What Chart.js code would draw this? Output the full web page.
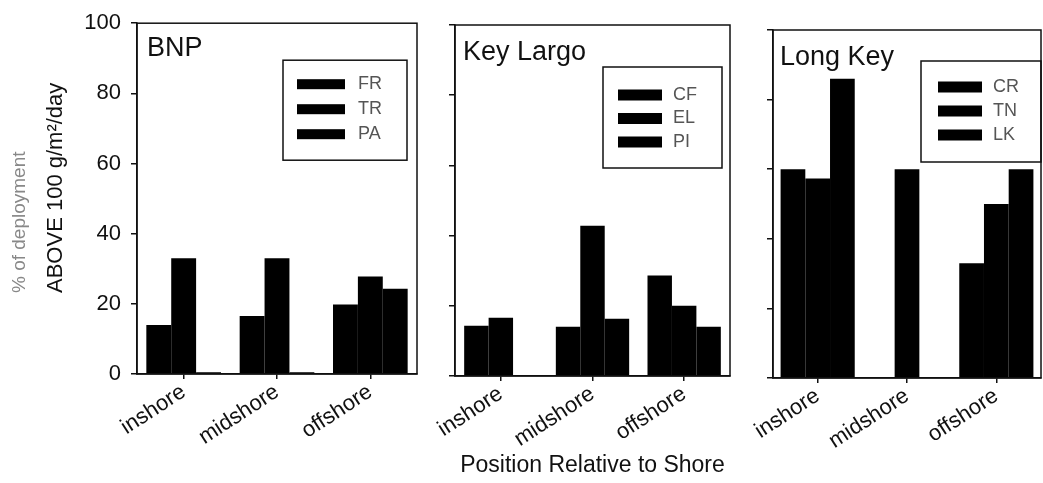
<!DOCTYPE html>
<html>
<head>
<meta charset="utf-8">
<script src="https://cdn.jsdelivr.net/npm/chart.js@4.4.1/dist/chart.umd.min.js"></script>
<style>
  html, body { margin: 0; padding: 0; background: #fff; }
  #wrap { position: relative; width: 1043px; height: 483px; overflow: hidden; }
  .panel { position: absolute; top: 0; }
</style>
</head>
<body>
<div id="wrap">
  <canvas class="panel" id="bnp" width="425" height="483" style="left:0"></canvas>
  <canvas class="panel" id="keylargo" width="310" height="483" style="left:425px"></canvas>
  <canvas class="panel" id="longkey" width="308" height="483" style="left:735px"></canvas>
</div>
<script>
// --- data ---
const categories = ['inshore', 'midshore', 'offshore'];
const yTicks = [0, 20, 40, 60, 80, 100];

const bnpSeries = ['FR', 'TR', 'PA'];
const bnpFR = [14, 16.5, 19.8];
const bnpTR = [33, 33, 27.8];
const bnpPA = [0.5, 0.5, 24.3];

const klSeries = ['CF', 'EL', 'PI'];
const klCF = [14.3, 14, 28.6];
const klEL = [16.6, 42.8, 20];
const klPI = [0, 16.3, 14];

const lkSeries = ['CR', 'TN', 'LK'];
const lkCR = [60, 0, 33];
const lkTN = [57.3, 60, 50];
const lkLK = [86, 0, 60];

const FONT = "'Liberation Sans', Arial, sans-serif";
Chart.defaults.font.family = FONT;
Chart.defaults.color = '#111';

// 프레임 + 패널 제목 + 범례 박스
const panelDeco = {
    id: 'panelDeco',
    afterDraw(chart, args, opts) {
        const { ctx, chartArea: a } = chart;
        ctx.save();
        ctx.strokeStyle = '#111';
        ctx.lineWidth = 1.5;
        ctx.strokeRect(a.left, a.top, a.right - a.left, a.bottom - a.top);

        ctx.fillStyle = '#111';
        ctx.font = `27px ${FONT}`;
        ctx.textBaseline = 'alphabetic';
        ctx.textAlign = 'left';
        ctx.fillText(opts.title, a.left + opts.titleDx, a.top + opts.titleDy);

        const lg = opts.legend;
        const x0 = a.right - lg.right - lg.w;
        const y0 = a.top + lg.top;
        ctx.strokeRect(x0, y0, lg.w, lg.h);
        ctx.font = `18px ${FONT}`;
        ctx.textBaseline = 'middle';
        chart.data.datasets.forEach((ds, i) => {
            const cy = y0 + lg.row0 + i * lg.rowGap;
            ctx.fillStyle = ds.backgroundColor;
            ctx.fillRect(x0 + lg.swX, cy - lg.swH / 2, lg.swW, lg.swH);
            ctx.fillStyle = '#555';
            ctx.fillText(ds.label, x0 + lg.txtX, cy);
        });
        ctx.restore();
    }
};

// y축 제목 (두 줄, 첫 줄은 흐리게)
const yTitle = {
    id: 'yTitle',
    afterDraw(chart, args, opts) {
        if (!opts.lines) return;
        const ctx = chart.ctx;
        opts.lines.forEach(line => {
            ctx.save();
            ctx.translate(line.x, line.y);
            ctx.rotate(-Math.PI / 2);
            ctx.font = `${line.size}px ${FONT}`;
            ctx.fillStyle = line.color;
            ctx.textAlign = 'left';
            ctx.textBaseline = 'middle';
            ctx.fillText(line.text, 0, 0);
            ctx.restore();
        });
    }
};

function makeChart(id, seriesNames, seriesData, opt) {
    const datasets = seriesNames.map((name, i) => ({
        label: name,
        data: seriesData[i],
        backgroundColor: '#000',
        borderWidth: 0,
        barPercentage: 1.0,
        categoryPercentage: opt.catPct
    }));
    return new Chart(document.getElementById(id), {
        type: 'bar',
        data: { labels: categories, datasets },
        options: {
            responsive: false,
            animation: false,
            layout: { padding: { left: 0, right: opt.padRight, top: opt.padTop, bottom: 0 } },
            plugins: {
                legend: { display: false },
                tooltip: { enabled: false },
                panelDeco: { title: opt.title, titleDx: opt.titleDx, titleDy: opt.titleDy, legend: opt.legend },
                yTitle: { lines: opt.yTitleLines }
            },
            scales: {
                y: {
                    min: 0, max: 100,
                    afterBuildTicks: s => { s.ticks = yTicks.map(v => ({ value: v })); },
                    ticks: { display: opt.showY, color: '#111', font: { size: 22 }, padding: 10 },
                    grid: { drawOnChartArea: false, drawTicks: true, tickLength: 6, color: '#111', lineWidth: 1.5 },
                    border: { color: '#111', width: 1.5 },
                    afterFit: s => { s.width = opt.yWidth; }
                },
                x: {
                    ticks: { color: '#111', font: { size: 22 }, minRotation: 33, maxRotation: 33, padding: 0 },
                    grid: { offset: false, drawOnChartArea: false, tickLength: 5, color: '#111', lineWidth: 1.5 },
                    border: { color: '#111', width: 1.5 },
                    title: opt.xTitle
                        ? { display: true, text: opt.xTitle, color: '#111', font: { size: 23 }, padding: { top: 0, bottom: 4 } }
                        : { display: false },
                    afterFit: s => { s.height = opt.xHeight; }
                }
            }
        },
        plugins: [panelDeco, yTitle]
    });
}

makeChart('bnp', bnpSeries, [bnpFR, bnpTR, bnpPA], {
    catPct: 0.8, padRight: 8, padTop: 20, yWidth: 137, xHeight: 109, showY: true,
    title: 'BNP', titleDx: 10, titleDy: 33,
    legend: { right: 10, w: 124, top: 37, h: 100, swX: 14, swW: 48, swH: 10, row0: 24, rowGap: 25, txtX: 75 },
    yTitleLines: [
        { text: '% of deployment', x: 20, y: 293, size: 19, color: '#888' },
        { text: 'ABOVE 100 g/m²/day', x: 56, y: 293, size: 22, color: '#111' }
    ]
});

makeChart('keylargo', klSeries, [klCF, klEL, klPI], {
    catPct: 0.8, padRight: 5, padTop: 25, yWidth: 30, xHeight: 107, showY: false,
    title: 'Key Largo', titleDx: 8, titleDy: 35, xTitle: 'Position Relative to Shore',
    legend: { right: 8, w: 119, top: 42, h: 101, swX: 15, swW: 44, swH: 11, row0: 28, rowGap: 23.5, txtX: 70 }
});

makeChart('longkey', lkSeries, [lkCR, lkTN, lkLK], {
    catPct: 0.83, padRight: 2, padTop: 30, yWidth: 38, xHeight: 105, showY: false,
    title: 'Long Key', titleDx: 7, titleDy: 35,
    legend: { right: 0, w: 120, top: 31, h: 101, swX: 17, swW: 44, swH: 11, row0: 26, rowGap: 24, txtX: 72 }
});
</script>
</body>
</html>
